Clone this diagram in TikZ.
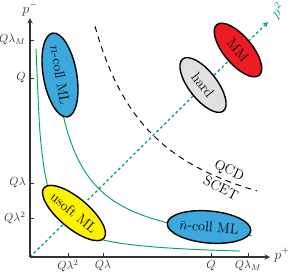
\documentclass[tikz,border=0pt]{standalone}
\usepackage{xcolor}
\definecolor{CollBlue}{HTML}{3BA9DE}
\definecolor{SoftYellow}{HTML}{FFF200}
\definecolor{MMRed}{HTML}{ED1C24}
\definecolor{HardGray}{HTML}{E0E0E0}
\definecolor{ModeGreen}{HTML}{00A651}
\usetikzlibrary{shapes,arrows,positioning}

\begin{document}
\begin{tikzpicture}[
  x=0.03cm, y=-0.03cm,
  every node/.style={font=\large},
  mode/.style={ellipse, draw, line width=1.2pt, inner sep=0pt, align=center},
  axis/.style={->, >=stealth, line width=1.1pt, black!80},
  tick/.style={line width=0.6pt, black!80},
  ticklbl/.style={text=black!80, inner sep=1pt, font=\normalsize},
  hyper/.style={ModeGreen, line width=0.8pt, smooth, samples=60},
  diag/.style={->, >=stealth, ModeGreen, line width=1.1pt, dash pattern=on 2.3pt off 2.3pt}
]
  \useasboundingbox (0,0) rectangle (291,273);

  % axes
  \coordinate (O) at (30,257);
  \coordinate (ytip) at (30,18);
  \coordinate (xtip) at (270,257);
  \coordinate (dtip) at (268,22);

  % scaling curves
  \draw[hyper] plot[domain=36:240] (\x, {257-1250/(\x-30)});
  \draw[hyper] plot[domain=51:252] (\x, {257-4700/(\x-30)});
  \draw[black, line width=0.8pt, dash pattern=on 5pt off 4pt, smooth, samples=60]
    plot[domain=95:257] (\x, {257-15000/(\x-30)});
  \node[rotate=-27] (qcd) at (229,171) {QCD};
  \node[rotate=-27] (scet) at (221,188) {SCET};

  \draw[diag] (O) -- (dtip);
  \node[ModeGreen, rotate=45, inner sep=0pt] (p2) at (278,11) {$p^2$};

  \draw[axis] (O) -- (ytip);
  \draw[axis] (O) -- (xtip);
  \node[text=black!80, inner sep=0pt] (pminus) at (30,9) {$p^-$};
  \node[text=black!80, inner sep=0pt] (pplus) at (282,255) {$p^+$};

  % ticks on p^-
  \draw[tick] (30,40) -- (34,40);
  \draw[tick] (30,78) -- (34,78);
  \draw[tick] (30,183) -- (34,183);
  \draw[tick] (30,218) -- (34,218);
  \node[ticklbl, left] (ylamM) at (27,40) {$Q\lambda_M$};
  \node[ticklbl, left] (yQ) at (27,78) {$Q$};
  \node[ticklbl, left] (ylam) at (27,183) {$Q\lambda$};
  \node[ticklbl, left] (ylam2) at (27,218) {$Q\lambda^2$};

  % ticks on p^+
  \draw[tick] (68,257) -- (68,253);
  \draw[tick] (103,257) -- (103,253);
  \draw[tick] (211,257) -- (211,253);
  \draw[tick] (248,257) -- (248,253);
  \node[ticklbl, below] (xlam2) at (68,259) {$Q\lambda^2$};
  \node[ticklbl, below] (xlam) at (103,259) {$Q\lambda$};
  \node[ticklbl, below] (xQ) at (211,259) {$Q$};
  \node[ticklbl, below] (xlamM) at (248,259) {$Q\lambda_M$};

  % modes
  \node[mode, fill=CollBlue, rotate=-80, minimum width=2.55cm, minimum height=1.0cm] (ncoll) at (60,75) {$n$-coll ML};
  \node[mode, fill=SoftYellow, rotate=-40, minimum width=2.25cm, minimum height=0.9cm] (usoft) at (74,213) {usoft ML};
  \node[mode, fill=CollBlue, rotate=-5, minimum width=2.46cm, minimum height=0.96cm] (nbarcoll) at (209,227) {$\bar{n}$-coll ML};
  \node[mode, fill=HardGray, rotate=-52, minimum width=1.98cm, minimum height=0.84cm] (hard) at (203,85) {hard};
  \node[mode, fill=MMRed, rotate=-50, minimum width=1.98cm, minimum height=0.84cm] (mm) at (238,50) {MM};
\end{tikzpicture}
\end{document}
